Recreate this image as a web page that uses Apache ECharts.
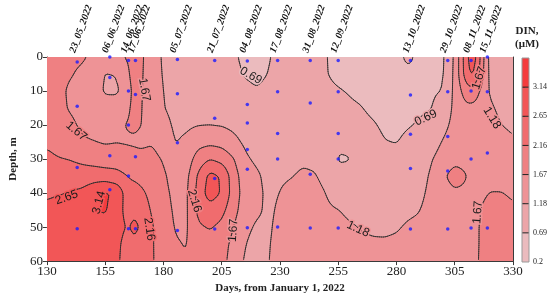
<!DOCTYPE html>
<html><head><meta charset="utf-8">
<script src="https://cdn.jsdelivr.net/npm/echarts@6/dist/echarts.min.js"></script>
<style>html,body{margin:0;padding:0;background:#fff}#c{width:550px;height:299px}</style>
</head><body><div id="c"></div>
<script>
// ---------- data ----------
const xTicks = [130,155,180,205,230,255,280,305,330];
const yTicks = [0,10,20,30,40,50,60];
const levels = [0.69,1.18,1.67,2.16,2.65,3.14];
const colorbarLabels = [0.2,0.69,1.18,1.67,2.16,2.65,3.14];
const scaleMin = 0.2, scaleMax = 3.63;
const bandColors = ['#ebbbbe','#eca5a8','#ee9396','#ef8082','#f06c6e','#f25657','#f43c3e'];

const sampleDays = [143,157,165,168,186,202,216,229,243,255,286,302,312,319];
const sampleNames = ['23_05_2022','06_06_2022','14_06_2022','17_06_2022','05_07_2022','21_07_2022','04_08_2022','17_08_2022','31_08_2022','12_09_2022','13_10_2022','29_10_2022','08_11_2022','15_11_2022'];
const sampleDepths = [
  [1.5,14.5,32.5,50.5],
  [0,6,29,39],
  [1,10,20,35,50.5],
  [1,11,29.3,50.5],
  [0.7,10.8,25.2,51],
  [1,18,35.7,50.6],
  [1.2,14,19.4,27.2,33,50.2],
  [1,10.2,22.5,30,50],
  [1,13.5,34.5,50.3],
  [1,10.2,22.5,30,50.3],
  [1,11.2,22.7,32.8,50.6],
  [1,10.2,23.4,33.5,50.6],
  [1,10,30,50.3],
  [0,10.2,28.2,50.3]
];

// DIN field: one profile per day node, values at depthNodes
const depthNodes = [0,5,10,15,20,25,30,35,40,45,50,55,60];
const dayNodes = [130,135,140,145,150,155,160,165,167.5,170,175,180,185,190,195,200,205,210,215,220,225,230,235,240,245,250,255,260,265,270,275,280,285,290,295,300,305,310,312.5,315,317.5,320,325,330];
const dinGrid = [
  [1.95,1.95,1.95,1.98,2.02,2.10,2.25,2.42,2.60,2.72,2.80,2.85,2.85],
  [1.85,1.80,1.78,1.78,1.85,2.00,2.18,2.40,2.62,2.80,2.90,2.92,2.90],
  [1.75,1.70,1.60,1.63,1.75,1.95,2.14,2.40,2.68,2.85,2.95,2.95,2.92],
  [1.72,1.60,1.55,1.55,1.60,1.72,2.05,2.40,2.75,2.95,3.00,2.98,2.95],
  [1.60,1.45,1.40,1.45,1.55,1.68,1.95,2.45,2.95,3.10,3.05,3.00,2.95],
  [1.55,1.15,1.12,1.40,1.55,1.63,1.90,2.40,3.20,3.20,2.95,2.90,2.85],
  [1.60,1.20,1.10,1.45,1.60,1.65,1.95,2.30,3.05,2.85,2.80,2.75,2.75],
  [1.72,1.62,1.50,1.62,1.70,1.62,1.88,2.14,2.30,2.45,2.60,2.45,2.35],
  [1.85,1.90,1.85,1.80,1.75,1.60,1.85,2.10,2.30,2.55,2.80,2.55,2.35],
  [1.78,1.75,1.72,1.70,1.68,1.58,1.80,2.05,2.25,2.40,2.60,2.40,2.30],
  [1.40,1.42,1.45,1.50,1.55,1.64,1.80,1.95,2.05,2.12,2.20,2.20,2.20],
  [1.12,1.14,1.17,1.19,1.30,1.45,1.63,1.75,1.80,1.85,1.90,1.95,1.98],
  [1.00,1.02,1.05,1.08,1.12,1.16,1.30,1.45,1.55,1.60,1.64,1.70,1.72],
  [0.95,0.97,1.00,1.05,1.12,1.25,1.42,1.55,1.60,1.60,1.62,1.65,1.70],
  [0.95,0.97,1.00,1.08,1.16,1.50,1.90,2.25,2.35,2.30,2.10,1.90,1.80],
  [0.92,0.93,0.95,1.05,1.17,1.55,2.15,2.80,2.90,2.45,2.20,2.00,1.90],
  [0.88,0.85,0.88,1.00,1.15,1.50,2.00,2.60,2.60,2.30,2.05,1.85,1.80],
  [0.75,0.80,0.85,0.95,1.08,1.30,1.70,1.90,1.95,1.85,1.67,1.55,1.50],
  [0.60,0.66,0.78,0.90,1.00,1.10,1.25,1.40,1.45,1.40,1.30,1.20,1.12],
  [0.55,0.60,0.72,0.82,0.90,0.98,1.10,1.25,1.30,1.25,1.12,1.00,0.95],
  [0.66,0.70,0.78,0.85,0.90,0.95,1.00,1.05,1.08,1.10,1.12,1.15,1.17],
  [0.80,0.82,0.85,0.90,0.95,1.00,1.07,1.14,1.19,1.25,1.30,1.32,1.33],
  [0.80,0.82,0.86,0.92,1.00,1.06,1.12,1.17,1.25,1.30,1.33,1.35,1.35],
  [0.78,0.80,0.85,0.92,1.00,1.07,1.14,1.22,1.30,1.35,1.38,1.40,1.40],
  [0.72,0.74,0.80,0.88,0.95,1.03,1.12,1.20,1.28,1.33,1.36,1.38,1.38],
  [0.70,0.70,0.74,0.82,0.90,0.96,1.00,1.08,1.17,1.24,1.30,1.33,1.35],
  [0.60,0.63,0.71,0.78,0.80,0.75,0.66,0.78,0.98,1.19,1.28,1.32,1.33],
  [0.55,0.58,0.67,0.73,0.76,0.76,0.68,0.78,0.92,1.10,1.22,1.28,1.30],
  [0.50,0.52,0.63,0.70,0.78,0.82,0.83,0.88,0.95,1.05,1.16,1.24,1.28],
  [0.50,0.50,0.55,0.62,0.72,0.80,0.85,0.90,0.97,1.05,1.13,1.22,1.26],
  [0.50,0.50,0.52,0.57,0.63,0.70,0.80,0.88,0.96,1.04,1.12,1.22,1.26],
  [0.55,0.50,0.52,0.56,0.62,0.68,0.78,0.88,0.97,1.06,1.15,1.24,1.28],
  [0.80,0.58,0.55,0.60,0.67,0.76,0.86,0.95,1.03,1.12,1.22,1.28,1.30],
  [0.55,0.56,0.60,0.65,0.72,0.80,0.90,1.00,1.08,1.17,1.25,1.30,1.32],
  [0.60,0.62,0.65,0.68,0.78,0.95,1.15,1.25,1.30,1.35,1.38,1.40,1.40],
  [0.62,0.64,0.70,0.85,1.05,1.22,1.40,1.60,1.50,1.45,1.45,1.45,1.45],
  [1.25,1.28,1.30,1.30,1.32,1.38,1.55,1.85,1.60,1.50,1.50,1.50,1.50],
  [2.50,2.45,1.95,1.55,1.45,1.45,1.55,1.68,1.60,1.55,1.55,1.55,1.55],
  [3.00,2.75,2.00,1.55,1.45,1.45,1.50,1.55,1.55,1.55,1.58,1.60,1.60],
  [2.45,2.30,1.75,1.50,1.42,1.42,1.45,1.55,1.60,1.63,1.65,1.65,1.66],
  [1.67,1.60,1.45,1.38,1.35,1.35,1.40,1.50,1.62,1.72,1.75,1.75,1.75],
  [1.00,1.05,1.12,1.25,1.35,1.38,1.45,1.55,1.68,1.80,1.85,1.85,1.85],
  [0.95,0.98,1.02,1.08,1.18,1.30,1.40,1.55,1.68,1.80,1.88,1.90,1.90],
  [0.92,0.95,0.98,1.04,1.12,1.22,1.35,1.50,1.62,1.72,1.85,1.90,1.90]
];

// contour labels: text, day, depth, rotation (deg, anticlockwise)
const contourLabels = [
  ['0.69',217.5,5.5,-30],
  ['1.67',171.8,9.6,-80],
  ['1.67',142.6,21.8,-40],
  ['0.69',292.6,17.9,25],
  ['1.67',315.5,6.2,72],
  ['1.18',321,17.9,-58],
  ['2.65',138.5,41.3,20],
  ['3.14',152.4,42.8,75],
  ['2.16',173.9,50.6,-82],
  ['2.16',193.3,42.3,-72],
  ['1.67',210,51,86],
  ['1.18',263.5,50.6,-25],
  ['1.67',314.9,45.7,86]
];

// ---------- rendering helpers ----------
const SERIF = '"Liberation Serif","DejaVu Serif",serif';
const SANS = '"Liberation Sans",Arial,sans-serif';

function findIdx(nodes, v) {
  let i = 0;
  while (i < nodes.length - 2 && v > nodes[i + 1]) i++;
  return i;
}
function fieldAt(day, depth) {
  const i = findIdx(dayNodes, day), j = findIdx(depthNodes, depth);
  const t = Math.max(0, Math.min(1, (day - dayNodes[i]) / (dayNodes[i + 1] - dayNodes[i])));
  const u = Math.max(0, Math.min(1, (depth - depthNodes[j]) / (depthNodes[j + 1] - depthNodes[j])));
  const g = dinGrid;
  return (1 - t) * (1 - u) * g[i][j] + t * (1 - u) * g[i + 1][j] + (1 - t) * u * g[i][j + 1] + t * u * g[i + 1][j + 1];
}
function bandOf(v) { let b = 0; while (b < levels.length && v >= levels[b]) b++; return b; }

function boxBlur(F, W, H, r) {
  const tmp = new Float32Array(W * H);
  for (let y = 0; y < H; y++) for (let x = 0; x < W; x++) {
    let s = 0, n = 0;
    for (let k = -r; k <= r; k++) { const xx = Math.min(W - 1, Math.max(0, x + k)); s += F[y * W + xx]; n++; }
    tmp[y * W + x] = s / n;
  }
  for (let y = 0; y < H; y++) for (let x = 0; x < W; x++) {
    let s = 0, n = 0;
    for (let k = -r; k <= r; k++) { const yy = Math.min(H - 1, Math.max(0, y + k)); s += tmp[yy * W + x]; n++; }
    F[y * W + x] = s / n;
  }
}

let cache = null;
function getField(api) {
  const a = api.coord([130, 0]), b = api.coord([330, 60]);
  const key = a.join(',') + ',' + b.join(',');
  if (cache && cache.key === key) return cache;
  const x0 = Math.round(a[0]), y0 = Math.round(a[1]);
  const W = Math.round(b[0]) - x0, H = Math.round(b[1]) - y0;
  const F = new Float32Array(W * H);
  for (let iy = 0; iy < H; iy++) {
    const depth = (iy + 0.5) / H * 60;
    for (let ix = 0; ix < W; ix++) {
      const day = 130 + (ix + 0.5) / W * 200;
      F[iy * W + ix] = fieldAt(day, depth);
    }
  }
  boxBlur(F, W, H, 2); boxBlur(F, W, H, 2);
  cache = { key, x0, y0, W, H, F };
  return cache;
}

function renderFill(params, api) {
  const f = getField(api);
  const children = [];
  for (let iy = 0; iy < f.H; iy++) {
    let start = 0, cur = bandOf(f.F[iy * f.W]);
    for (let ix = 1; ix <= f.W; ix++) {
      const bnd = ix < f.W ? bandOf(f.F[iy * f.W + ix]) : -1;
      if (bnd !== cur) {
        children.push({ type: 'rect', shape: { x: f.x0 + start, y: f.y0 + iy, width: ix - start, height: 1 },
          style: { fill: bandColors[cur] }, silent: true });
        start = ix; cur = bnd;
      }
    }
  }
  return { type: 'group', children };
}

function renderContours(params, api) {
  const f = getField(api);
  const s = 2, W = f.W, H = f.H, F = f.F;
  const nx = Math.floor((W - 1) / s), ny = Math.floor((H - 1) / s);
  const val = (i, j) => F[(j * s) * W + i * s];
  let d = '';
  const seg = (p, q) => { d += 'M' + p[0].toFixed(2) + ' ' + p[1].toFixed(2) + 'L' + q[0].toFixed(2) + ' ' + q[1].toFixed(2); };
  for (const L of levels) {
    for (let j = 0; j < ny; j++) for (let i = 0; i < nx; i++) {
      const v0 = val(i, j), v1 = val(i + 1, j), v2 = val(i + 1, j + 1), v3 = val(i, j + 1);
      const idx = (v0 >= L ? 8 : 0) | (v1 >= L ? 4 : 0) | (v2 >= L ? 2 : 0) | (v3 >= L ? 1 : 0);
      if (idx === 0 || idx === 15) continue;
      const X = f.x0 + i * s + 0.5, Y = f.y0 + j * s + 0.5;
      const top = [X + s * (L - v0) / (v1 - v0), Y];
      const right = [X + s, Y + s * (L - v1) / (v2 - v1)];
      const bottom = [X + s * (L - v3) / (v2 - v3), Y + s];
      const left = [X, Y + s * (L - v0) / (v3 - v0)];
      const c = (v0 + v1 + v2 + v3) / 4 >= L;
      switch (idx) {
        case 1: case 14: seg(left, bottom); break;
        case 2: case 13: seg(bottom, right); break;
        case 3: case 12: seg(left, right); break;
        case 4: case 11: seg(top, right); break;
        case 6: case 9: seg(top, bottom); break;
        case 7: case 8: seg(left, top); break;
        case 5: if (c) { seg(left, top); seg(bottom, right); } else { seg(top, right); seg(left, bottom); } break;
        case 10: if (c) { seg(top, right); seg(left, bottom); } else { seg(left, top); seg(bottom, right); } break;
      }
    }
  }
  return { type: 'path', shape: { pathData: d }, style: { fill: null, stroke: '#2b2b2b', lineWidth: 0.9, lineCap: 'round' }, silent: true };
}

function renderLabel(params, api) {
  const l = contourLabels[params.dataIndex];
  const p = api.coord([l[1], l[2]]);
  const bg = bandColors[bandOf(fieldAt(l[1], l[2]))];
  return { type: 'text', x: p[0], y: p[1], rotation: l[3] * Math.PI / 180,
    style: { text: l[0], fill: '#1a1a1a', font: '12px ' + SANS, align: 'center', verticalAlign: 'middle',
      stroke: bg, lineWidth: 3 }, silent: true };
}

function renderColorbar(params, api) {
  const children = [];
  for (let i = 0; i < bandColors.length; i++) {
    const lo = i === 0 ? scaleMin : levels[i - 1];
    const hi = i === bandColors.length - 1 ? scaleMax : levels[i];
    const p1 = api.coord([0, lo]), p2 = api.coord([1, hi]);
    children.push({ type: 'rect', shape: { x: p1[0], y: p2[1], width: p2[0] - p1[0], height: p1[1] - p2[1] },
      style: { fill: bandColors[i] } });
  }
  for (const L of levels) {
    const p1 = api.coord([0, L]), p2 = api.coord([1, L]);
    children.push({ type: 'line', shape: { x1: p1[0], y1: p1[1], x2: p2[0], y2: p2[1] }, style: { stroke: '#222', lineWidth: 1 } });
  }
  const a = api.coord([0, scaleMin]), b = api.coord([1, scaleMax]);
  children.push({ type: 'rect', shape: { x: a[0], y: b[1], width: b[0] - a[0], height: a[1] - b[1] },
    style: { fill: null, stroke: '#999', lineWidth: 1 } });
  return { type: 'group', children };
}

const dots = [];
sampleDays.forEach((d, i) => sampleDepths[i].forEach(z => dots.push([d, z])));
const nameOfDay = {};
sampleDays.forEach((d, i) => { nameOfDay[d] = sampleNames[i]; });

const axisColor = '#3a3a3a';
const chart = echarts.init(document.getElementById('c'));
chart.setOption({
  animation: false,
  backgroundColor: '#ffffff',
  grid: [
    { left: 33, right: 37, top: 57, bottom: 37 },
    { left: 522, top: 58, width: 11, height: 204 }
  ],
  graphic: [{ type: 'text', x: 527, y: 25, style: { text: 'DIN,\n(μM)', align: 'center', font: 'bold 11px ' + SERIF, fill: '#222', lineHeight: 13 } }],
  xAxis: [
    { gridIndex: 0, type: 'value', min: 130, max: 330, position: 'bottom',
      name: 'Days, from January 1, 2022', nameLocation: 'middle', nameGap: 19,
      nameTextStyle: { fontFamily: SERIF, fontWeight: 'bold', fontSize: 11, color: '#222' },
      axisLine: { show: true, onZero: false, lineStyle: { color: axisColor } },
      axisTick: { show: true, customValues: xTicks, length: 4, lineStyle: { color: axisColor } },
      axisLabel: { customValues: xTicks, fontFamily: SERIF, fontSize: 13, color: '#222', margin: 4 },
      splitLine: { show: false } },
    { gridIndex: 0, type: 'value', min: 130, max: 330, position: 'top',
      axisLine: { show: true, onZero: false, lineStyle: { color: axisColor } },
      axisTick: { show: false },
      axisLabel: { customValues: sampleDays, rotate: -70, formatter: v => nameOfDay[v] || '', fontFamily: SERIF,
        fontStyle: 'italic', fontWeight: 'bold', fontSize: 10, color: '#111', margin: 3,
        align: 'left', verticalAlign: 'bottom' },
      splitLine: { show: false } },
    { gridIndex: 1, type: 'value', min: 0, max: 1, show: false }
  ],
  yAxis: [
    { gridIndex: 0, type: 'value', inverse: true, min: 0, max: 60, interval: 10,
      name: 'Depth, m', nameLocation: 'middle', nameGap: 20,
      nameTextStyle: { fontFamily: SERIF, fontWeight: 'bold', fontSize: 11, color: '#222' },
      axisLine: { show: true, onZero: false, lineStyle: { color: axisColor } },
      axisTick: { show: true, length: 4, lineStyle: { color: axisColor } },
      axisLabel: { fontFamily: SERIF, fontSize: 13, color: '#222', margin: 4 },
      splitLine: { show: false } },
    { gridIndex: 0, type: 'value', inverse: true, min: 0, max: 60, position: 'right',
      axisLine: { show: true, onZero: false, lineStyle: { color: axisColor } },
      axisTick: { show: false }, axisLabel: { show: false }, splitLine: { show: false } },
    { gridIndex: 1, type: 'value', min: scaleMin, max: scaleMax, position: 'right',
      axisLine: { show: false },
      axisTick: { show: true, customValues: levels, length: 3, lineStyle: { color: '#222' } },
      axisLabel: { customValues: colorbarLabels, formatter: v => String(v), fontFamily: SERIF, fontSize: 8, color: '#222', margin: 4 },
      splitLine: { show: false } }
  ],
  series: [
    { type: 'custom', name: 'fill', xAxisIndex: 0, yAxisIndex: 0, data: [[130, 0]], renderItem: renderFill, z: 1, silent: true },
    { type: 'custom', name: 'contours', xAxisIndex: 0, yAxisIndex: 0, data: [[130, 0]], renderItem: renderContours, z: 2, silent: true },
    { type: 'custom', name: 'labels', xAxisIndex: 0, yAxisIndex: 0, data: contourLabels.map(l => [l[1], l[2]]), renderItem: renderLabel, z: 3, silent: true },
    { type: 'scatter', name: 'samples', xAxisIndex: 0, yAxisIndex: 0, data: dots, symbolSize: 3.5, itemStyle: { color: '#1a1aff' }, z: 4, silent: true },
    { type: 'custom', name: 'colorbar', xAxisIndex: 2, yAxisIndex: 2, data: [[0, scaleMin]], renderItem: renderColorbar, z: 1, silent: true }
  ]
});
</script></body></html>
